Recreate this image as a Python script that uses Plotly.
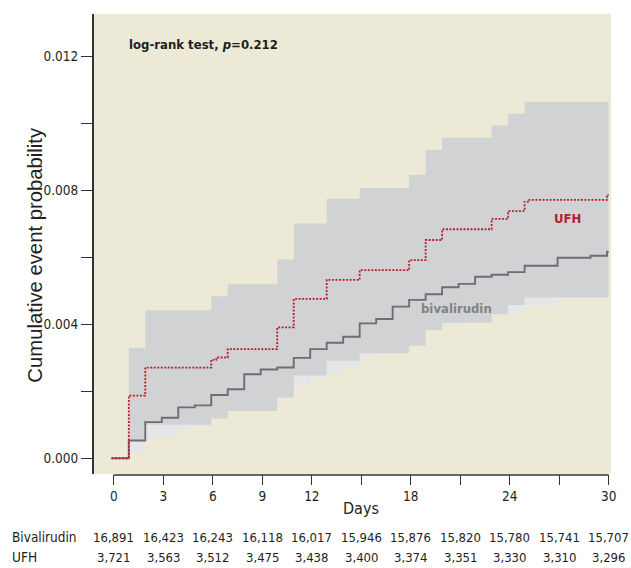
import plotly.graph_objects as go

# ---------------- data ----------------
x_tick_vals = [0, 3, 6, 9, 12, 15, 18, 21, 24, 27, 30]
x_tick_text = ["0", "3", "6", "9", "12", "", "18", "", "24", "", "30"]
y_tick_vals = [0.0, 0.002, 0.004, 0.006, 0.008, 0.010, 0.012]
y_tick_text = ["0.000", "", "0.004", "", "0.008", "", "0.012"]

biv_t = [0, 0.9, 1.9, 2.9, 3.9, 4.9, 5.9, 6.9, 7.9, 8.9, 9.9, 10.9, 11.9, 12.9, 13.9,
         14.9, 15.9, 16.9, 17.9, 18.9, 19.9, 20.9, 21.9, 22.9, 23.9, 24.9, 26.9, 28.9, 29.9]
biv_est = [0, 0.00053, 0.00108, 0.00121, 0.00152, 0.00158, 0.00189, 0.00206, 0.00251, 0.00265,
           0.00271, 0.00300, 0.00326, 0.00345, 0.00363, 0.00403, 0.00416, 0.00453, 0.00473,
           0.00490, 0.00511, 0.00521, 0.00542, 0.00548, 0.00556, 0.00575, 0.00599, 0.00605, 0.00617]
biv_lo = [0, 0.00015, 0.00058, 0.00065, 0.00090, 0.00094, 0.00122, 0.00145, 0.00175, 0.00186,
          0.00190, 0.00217, 0.00237, 0.00254, 0.00269, 0.00303, 0.00316, 0.00345, 0.00362,
          0.00386, 0.00395, 0.00412, 0.00430, 0.00436, 0.00433, 0.00456, 0.00483, 0.00488, 0.00498]
biv_hi = [0, 0.00100, 0.00166, 0.00185, 0.00222, 0.00230, 0.00265, 0.00278, 0.00340, 0.00355,
          0.00362, 0.00395, 0.00428, 0.00448, 0.00468, 0.00515, 0.00530, 0.00575, 0.00598,
          0.00612, 0.00640, 0.00645, 0.00668, 0.00675, 0.00692, 0.00710, 0.00730, 0.00737, 0.00750]

ufh_t = [0, 0.9, 1.9, 5.9, 6.2, 6.9, 9.9, 10.9, 12.9, 14.9, 17.9, 18.9, 19.9, 22.9, 23.9,
         24.9, 25.1, 29.9]
ufh_est = [0, 0.00187, 0.00271, 0.00294, 0.00301, 0.00326, 0.00391, 0.00476, 0.00533, 0.00562,
           0.00592, 0.00652, 0.00684, 0.00715, 0.00738, 0.00766, 0.00772, 0.00787]
ufh_lo = [0, 0.00053, 0.00100, 0.00119, 0.00119, 0.00141, 0.00181, 0.00247, 0.00291, 0.00314,
          0.00336, 0.00383, 0.00405, 0.00430, 0.00458, 0.00480, 0.00480, 0.00481]
ufh_hi = [0, 0.00330, 0.00442, 0.00484, 0.00484, 0.00520, 0.00594, 0.00701, 0.00775, 0.00807,
          0.00847, 0.00921, 0.00957, 0.00994, 0.01029, 0.01064, 0.01064, 0.01064]

risk_days = [0, 3, 6, 9, 12, 15, 18, 21, 24, 27, 30]
risk_biv = ["16,891", "16,423", "16,243", "16,118", "16,017", "15,946", "15,876", "15,820",
            "15,780", "15,741", "15,707"]
risk_ufh = ["3,721", "3,563", "3,512", "3,475", "3,438", "3,400", "3,374", "3,351",
            "3,330", "3,310", "3,296"]
group_names = ["Bivalirudin", "UFH"]

END_DAY = 30

# ---------------- styling ----------------
FONT = "DejaVu Sans Condensed, Liberation Sans Narrow, Arial Narrow, sans-serif"
BEIGE = "#ecead7"
DARK_BAND = "#d1d2d4"
LIGHT_BAND = "#e5e6e7"
BIV_COL = "#6d6e71"
UFH_COL = "#be1e2d"
AXIS_COL = "#333333"
TEXT_COL = "#231f20"


def ext(t, v):
    return list(t) + [END_DAY], list(v) + [v[-1]]


fig = go.Figure()

# bivalirudin CI (light)
t, lo = ext(biv_t, biv_lo)
_, hi = ext(biv_t, biv_hi)
fig.add_trace(go.Scatter(x=t, y=lo, mode="lines", line=dict(width=0, shape="hv"),
                         hoverinfo="skip", showlegend=False))
fig.add_trace(go.Scatter(x=t, y=hi, mode="lines", line=dict(width=0, shape="hv"),
                         fill="tonexty", fillcolor=LIGHT_BAND, hoverinfo="skip",
                         showlegend=False))
# UFH CI (darker)
t, lo = ext(ufh_t, ufh_lo)
_, hi = ext(ufh_t, ufh_hi)
fig.add_trace(go.Scatter(x=t, y=lo, mode="lines", line=dict(width=0, shape="hv"),
                         hoverinfo="skip", showlegend=False))
fig.add_trace(go.Scatter(x=t, y=hi, mode="lines", line=dict(width=0, shape="hv"),
                         fill="tonexty", fillcolor=DARK_BAND, hoverinfo="skip",
                         showlegend=False))

# estimate lines
t, v = ext(biv_t, biv_est)
fig.add_trace(go.Scatter(x=[-0.15] + t, y=[v[0]] + v, mode="lines",
                         line=dict(color=BIV_COL, width=1.9, shape="hv"),
                         name="bivalirudin", showlegend=False))
t, v = ext(ufh_t, ufh_est)
fig.add_trace(go.Scatter(x=[-0.15] + t, y=[v[0]] + v, mode="lines",
                         line=dict(color=UFH_COL, width=1.8, shape="hv", dash="2px,1.5px"),
                         name="UFH", showlegend=False))

# x axis baseline spanning 0..30
fig.add_shape(type="line", xref="x", yref="paper", x0=0, x1=END_DAY, y0=-0.002, y1=-0.002,
              line=dict(color=AXIS_COL, width=1.5), layer="above")

annotations = []
annotations.append(dict(x=0.8, y=0.01237, xref="x", yref="y", xanchor="left", yanchor="middle",
                        text="<b>log-rank test, <i>p</i>=0.212</b>", showarrow=False,
                        font=dict(family=FONT, size=13, color=TEXT_COL)))
annotations.append(dict(x=27.5, y=0.00716, xref="x", yref="y", text="<b>UFH</b>",
                        showarrow=False, font=dict(family=FONT, size=13, color="#b01f2e")))
annotations.append(dict(x=20.75, y=0.00448, xref="x", yref="y", text="<b>bivalirudin</b>",
                        showarrow=False, font=dict(family=FONT, size=13, color="#808285")))
annotations.append(dict(x=15, y=-0.074, xref="x", yref="paper", text="Days", showarrow=False,
                        yanchor="middle", font=dict(family=FONT, size=16, color=TEXT_COL)))
annotations.append(dict(x=-0.114, y=0.477, xref="paper", yref="paper", textangle=-90,
                        xanchor="center", yanchor="middle",
                        text="Cumulative event probability", showarrow=False,
                        font=dict(family="Liberation Sans, Arial, sans-serif", size=20.3,
                                  color=TEXT_COL)))
row_y = [-0.137, -0.1805]
for name, ry in zip(group_names, row_y):
    annotations.append(dict(x=-0.1625, y=ry, xref="paper", yref="paper", xanchor="left",
                            yanchor="middle", text=name, showarrow=False,
                            font=dict(family=FONT, size=13.5, color=TEXT_COL)))
for vals, ry in zip([risk_biv, risk_ufh], row_y):
    for d, s in zip(risk_days, vals):
        annotations.append(dict(x=d, y=ry, xref="x", yref="paper", xanchor="center",
                                yanchor="middle", text=s, showarrow=False,
                                font=dict(family=FONT, size=13, color=TEXT_COL)))

fig.update_layout(
    width=631, height=568,
    margin=dict(l=94, r=20, t=14, b=94, pad=0),
    paper_bgcolor="white", plot_bgcolor=BEIGE,
    font=dict(family=FONT, size=13, color=TEXT_COL),
    annotations=annotations,
    showlegend=False,
    xaxis=dict(range=[-1.21, 30.14], tickmode="array", tickvals=x_tick_vals,
               ticktext=x_tick_text, ticks="outside", ticklen=10, tickwidth=1.3,
               tickcolor=AXIS_COL, showline=False, showgrid=False, zeroline=False,
               tickfont=dict(family=FONT, size=13.5, color=TEXT_COL)),
    yaxis=dict(range=[-0.00047, 0.01327], tickmode="array", tickvals=y_tick_vals,
               ticktext=y_tick_text, ticks="outside", ticklen=11, tickwidth=1.3,
               tickcolor=AXIS_COL, showline=True, linecolor=AXIS_COL, linewidth=2,
               showgrid=False, zeroline=False,
               tickfont=dict(family=FONT, size=13.5, color=TEXT_COL)),
)

fig.write_html("out.html", config={"displayModeBar": False},
               post_script="document.body.style.margin='0';document.body.style.overflow='hidden';")
